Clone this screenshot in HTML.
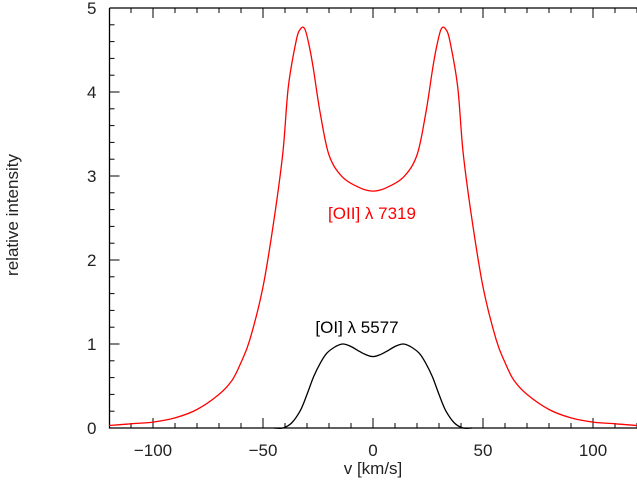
<!DOCTYPE html>
<html><head><meta charset="utf-8"><style>
body{margin:0;background:#fff;}
svg text{font-family:"Liberation Sans",sans-serif;}
</style></head><body>
<svg id="chart" width="637" height="481" xmlns="http://www.w3.org/2000/svg"></svg>
<script>
const velocities = [-120,-110,-100,-90,-80,-70,-64,-60,-56,-50,-45,-41,-38.5,-35,-33,-31,-29,-27,-24,-20,-14,-6,0,6,14,20,24,27,29,31,33,35,38.5,41,45,50,56,60,64,70,80,90,100,110,120];
const oiiValues = [0.03,0.05,0.07,0.12,0.22,0.4,0.57,0.78,1.05,1.68,2.48,3.27,4.06,4.6,4.75,4.75,4.55,4.26,3.75,3.25,2.99,2.86,2.82,2.86,2.99,3.25,3.75,4.26,4.55,4.75,4.75,4.6,4.06,3.27,2.48,1.68,1.05,0.78,0.57,0.4,0.22,0.12,0.07,0.05,0.03];
const oiVelocities = [-45,-41,-37,-33,-30,-27,-24,-21,-17,-13.6,-10,-6,-3,0,3,6,10,13.6,17,21,24,27,30,33,37,41,45];
const oiValues = [0,0,0.06,0.21,0.4,0.61,0.77,0.89,0.97,1.0,0.97,0.91,0.87,0.85,0.87,0.91,0.97,1.0,0.97,0.89,0.77,0.61,0.4,0.21,0.06,0,0];
const xTicks = [-100,-50,0,50,100];
const yTicks = [0,1,2,3,4,5];

const NS="http://www.w3.org/2000/svg";
const svg=document.getElementById('chart');
const L=109.5,R=637,T=8,B=428;
const xS=v=>373+v*2.2;
const yS=v=>B-v*84;
function mk(tag,attrs,parent){const e=document.createElementNS(NS,tag);for(const k in attrs)e.setAttribute(k,attrs[k]);(parent||svg).appendChild(e);return e;}

const axes=mk('g',{});


mk('path',{d:`M${L},${T}H${R}M${L},${T}V${B}H${R}`,stroke:'#000','stroke-width':1.3,fill:'none'},axes);
for(let v=-110;v<=120;v+=10){
  const x=xS(v),maj=v%50===0,len=maj?10:5;
  mk('path',{d:`M${x},${B}v${-len}M${x},${T}v${len}`,stroke:'#000','stroke-width':1},axes);
}
xTicks.forEach(v=>{
  const t=mk('text',{x:xS(v),y:B+28,'text-anchor':'middle','font-size':17,fill:'#222'},axes);
  
  
  t.textContent=(v<0?'\u2212':'')+Math.abs(v);
});
for(let i=0;i<=25;i++){
  const v=i*0.2,y=yS(v),maj=i%5===0,len=maj?10:5;
  mk('path',{d:`M${L},${y}h${len}`,stroke:'#000','stroke-width':1},axes);
}
yTicks.forEach(v=>{
  const t=mk('text',{x:L-13,y:yS(v)+6,'text-anchor':'end','font-size':17,fill:'#222'},axes);
  
  
  t.textContent=v;
});
const xt=mk('text',{x:373,y:474,'text-anchor':'middle','font-size':17,fill:'#222'});


xt.textContent='v [km/s]';
const yt=mk('text',{x:0,y:0,transform:'translate(18,215) rotate(-90)','text-anchor':'middle','font-size':17,fill:'#222'});


yt.textContent='relative intensity';

function line(xs,ys,color,name){
  const P=xs.map((v,i)=>[xS(v),yS(ys[i])]);
  let d='M'+P[0][0].toFixed(1)+','+P[0][1].toFixed(1);
  for(let i=0;i<P.length-1;i++){
    const p0=P[Math.max(0,i-1)],p1=P[i],p2=P[i+1],p3=P[Math.min(P.length-1,i+2)];
    const c1=[p1[0]+(p2[0]-p0[0])/6,p1[1]+(p2[1]-p0[1])/6];
    const c2=[p2[0]-(p3[0]-p1[0])/6,p2[1]-(p3[1]-p1[1])/6];
    d+=`C${c1[0].toFixed(1)},${c1[1].toFixed(1)} ${c2[0].toFixed(1)},${c2[1].toFixed(1)} ${p2[0].toFixed(1)},${p2[1].toFixed(1)}`;
  }
  const p=mk('path',{d,stroke:color,'stroke-width':1.3,fill:'none','stroke-linejoin':'round'});
  
  
}
line(velocities,oiiValues,'#ff0000','oii-7319-line');
line(oiVelocities,oiValues,'#000','oi-5577-line');
const l1=mk('text',{x:372,y:219,'text-anchor':'middle','font-size':17,fill:'#ff0000'});


l1.textContent='[OII] \u03bb 7319';
const l2=mk('text',{x:357,y:333,'text-anchor':'middle','font-size':17,fill:'#000'});


l2.textContent='[OI] \u03bb 5577';
</script>
</body></html>
